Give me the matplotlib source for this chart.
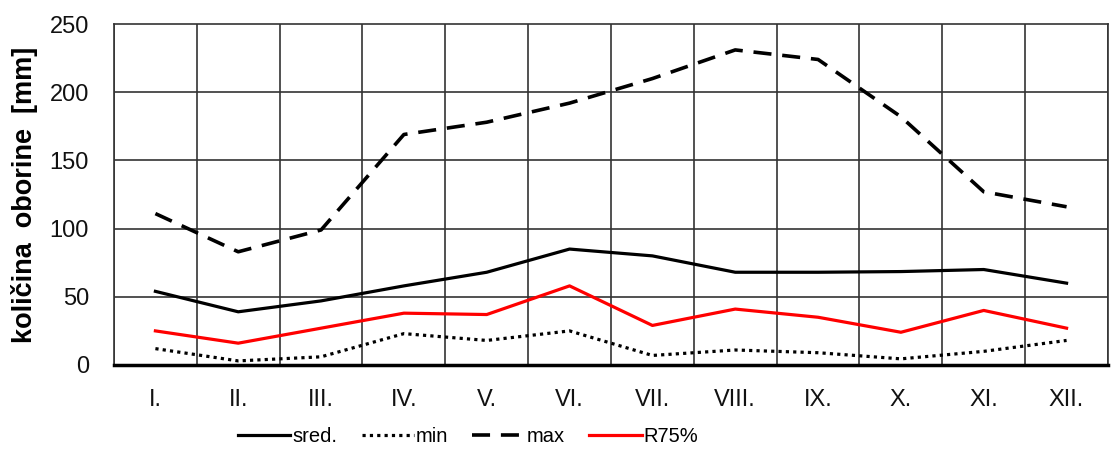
import matplotlib.pyplot as plt

plt.rcParams['font.family'] = ['Liberation Sans', 'DejaVu Sans']

months = ["I.", "II.", "III.", "IV.", "V.", "VI.", "VII.", "VIII.", "IX.", "X.", "XI.", "XII."]
sred = [54, 39, 47, 58, 68, 85, 80, 68, 68, 68.5, 70, 60]
min_vals = [12, 3, 6, 23, 18, 25, 7, 11, 9, 4.5, 10, 18]
max_vals = [111, 83, 99, 169, 178, 192, 210, 231, 224, 182, 127, 116]
r75 = [25, 16, 27, 38, 37, 58, 29, 41, 35, 24, 40, 27]

fig = plt.figure(figsize=(11.12, 4.59), dpi=100)
ax = fig.add_axes([0.1025, 0.2048, 0.8939, 0.7429])

x = list(range(len(months)))
ax.plot(x, sred, color='black', lw=2.3, label="sred.")
ax.plot(x, min_vals, color='black', lw=2.3, linestyle=(0, (1, 1.3)), label="min")
ax.plot(x, max_vals, color='black', lw=2.6, linestyle=(0, (5, 3)), label="max")
ax.plot(x, r75, color='#ff0000', lw=2.3, label="R75%")

ax.set_xlim(-0.5, 11.5)
ax.set_ylim(0, 250)
ax.set_yticks([0, 50, 100, 150, 200, 250])
ax.set_xticks(x)
ax.set_xticklabels(months)

# grid: vertical lines between months, horizontal at each tick
for b in range(13):
    ax.axvline(b - 0.5, color='#333333', lw=1.2, zorder=0)
for v in [50, 100, 150, 200]:
    ax.axhline(v, color='#333333', lw=1.2, zorder=0)

for s in ['top', 'right', 'left']:
    ax.spines[s].set_color('#333333')
    ax.spines[s].set_linewidth(1.2)
ax.spines['bottom'].set_linewidth(2.5)
ax.spines['bottom'].set_color('black')

ax.tick_params(axis='both', length=0, labelsize=17, colors='#111111')
ax.tick_params(axis='y', pad=18)
ax.tick_params(axis='x', pad=17)

ax.set_ylabel("količina  oborine  [mm]", fontsize=19.5, fontweight='bold', labelpad=8)

fig.legend(loc='center', bbox_to_anchor=(0.421, 0.048), ncol=4, frameon=False,
           fontsize=14.5, handlelength=2.6, handletextpad=0.1, columnspacing=1.2)

fig.savefig("out.png", dpi=100)
